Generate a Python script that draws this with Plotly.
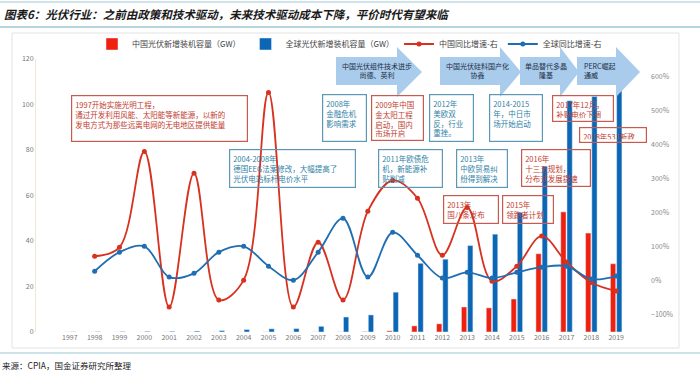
import plotly.graph_objects as go

years = [str(y) for y in range(1997, 2020)]
china_gw = [0.003, 0.005, 0.005, 0.015, 0.01, 0.02, 0.01, 0.01, 0.05, 0.01, 0.02, 0.04, 0.16,
            0.5, 2.7, 3.6, 11.0, 10.6, 14.5, 34.4, 52.8, 43.5, 30.0]
global_gw = [0.08, 0.15, 0.2, 0.28, 0.3, 0.4, 0.6, 1.1, 1.4, 1.5, 2.5, 6.6, 7.5,
             17.5, 30.2, 32.0, 38.0, 43.0, 52.6, 72.8, 101.7, 103.5, 115.0]
china_yoy = [None, 72, 98, 379, -77, 315, -56, 2, 552, -77, 113, -56, 204,
             294, 242, 75, 215, -1, 43, 131, 55, -5, -30]
global_yoy = [None, 28, 84, 101, 11, 22, 84, 101, 43, 2, 84, 183, 11,
              142, 75, 8, 25, 8, 25, 40, 43, 5, 14]

title_text = "图表6：光伏行业：之前由政策和技术驱动，未来技术驱动成本下降，平价时代有望来临"
source_text = "来源：CPIA，国金证券研究所整理"
legend_names = ["中国光伏新增装机容量（GW）", "全球光伏新增装机容量（GW）", "中国同比增速-右", "全球同比增速-右"]

arrow_texts = ["中国光伏组件技术进步<br>尚德、英利", "中国光伏硅料国产化<br>协鑫",
               "单品替代多晶<br>隆基", "PERC崛起<br>通威"]

box_texts = [
    ("1997开始实施光明工程，<br>通过开发利用风能、太阳能等新能源，以新的<br>发电方式为那些远离电网的无电地区提供能量", "r"),
    ("2004-2008年<br>德国EEG法案修改，大幅提高了<br>光伏电站标杆电价水平", "b"),
    ("2008年<br>金融危机<br>影响需求", "b"),
    ("2009年中国<br>金太阳工程<br>启动，国内<br>市场开启", "r"),
    ("2011年欧债危<br>机，新能源补<br>贴削减", "b"),
    ("2012年<br>美欧双<br>反，行业<br>重挫。", "b"),
    ("2013年<br>中欧贸易纠<br>纷得到解决", "b"),
    ("2014-2015<br>年，中日市<br>场开始启动", "b"),
    ("2013年<br>国八条发布", "r"),
    ("2015年<br>领跑者计划", "r"),
    ("2016年<br>十三五规划，<br>分布式发展提速", "r"),
    ("2017年12月，<br>补贴电价下调", "r"),
    ("2018年531新政", "r"),
]
box_geom = [(71, 95, 248, 142), (229, 149, 356, 188), (322, 94, 367, 142), (371, 95, 424, 141),
            (378, 149, 443, 188), (429, 94, 474, 142), (456, 149, 508, 188), (489, 94, 543, 142),
            (443, 195, 499, 224), (502, 195, 554, 224), (521, 149, 591, 187), (552, 95, 614, 122),
            (579, 127, 647, 143)]

W, H = 700, 375
L, R, T, B = 36, 50, 59, 43
PW, PH = W - L - R, H - T - B


def px(x):
    return (x - L) / PW


def py(y):
    return (H - B - y) / PH


FONT = "Noto Sans CJK SC"
RED_BAR = "#f0200f"
BLUE_BAR = "#0b67b5"
RED_LINE = "#d8311f"
BLUE_LINE = "#1f6eb2"

fig = go.Figure()
fig.add_trace(go.Bar(x=years, y=china_gw, name=legend_names[0], marker_color=RED_BAR))
fig.add_trace(go.Bar(x=years, y=global_gw, name=legend_names[1], marker_color=BLUE_BAR))
fig.add_trace(go.Scatter(x=years, y=china_yoy, name=legend_names[2], yaxis="y2",
                         mode="lines+markers", line=dict(color=RED_LINE, width=1.8, shape="spline"),
                         marker=dict(size=5, color=RED_LINE)))
fig.add_trace(go.Scatter(x=years, y=global_yoy, name=legend_names[3], yaxis="y2",
                         mode="lines+markers", line=dict(color=BLUE_LINE, width=1.8, shape="spline"),
                         marker=dict(size=5, color=BLUE_LINE)))

shapes = []
shapes.append(dict(type="line", xref="paper", yref="paper", x0=px(0), x1=px(700), y0=py(2), y1=py(2),
                   line=dict(color="#cfe3ea", width=2)))
shapes.append(dict(type="line", xref="paper", yref="paper", x0=px(0), x1=px(700), y0=py(27), y1=py(27),
                   line=dict(color="#9cc6d3", width=1.5)))
shapes.append(dict(type="rect", xref="paper", yref="paper", x0=px(12), x1=px(679), y0=py(33), y1=py(348),
                   line=dict(color="#e3e3e3", width=1)))
shapes.append(dict(type="line", xref="paper", yref="paper", x0=px(0), x1=px(700), y0=py(353), y1=py(353),
                   line=dict(color="#9cc6d3", width=1.2)))

arrow_geom = [(336, 397, 422), (440, 500, 521), (520, 560, 579), (577, 616, 640)]
for (x0, xh, xt) in arrow_geom:
    pts = [(x0, 57), (xh, 57), (xh, 47), (xt, 72), (xh, 97), (xh, 85), (x0, 85)]
    path = "M " + " L ".join(f"{px(a):.5f},{py(b):.5f}" for a, b in pts) + " Z"
    shapes.append(dict(type="path", xref="paper", yref="paper", path=path,
                       fillcolor="#a9cbec", line=dict(width=0), layer="above"))

annotations = []
annotations.append(dict(text="<b><i>" + title_text + "</i></b>", xref="paper", yref="paper",
                        x=px(2), y=py(14), xanchor="left", yanchor="middle", showarrow=False,
                        font=dict(family=FONT, size=11.5, color="#1a1a1a")))
annotations.append(dict(text=source_text, xref="paper", yref="paper",
                        x=px(0), y=py(365), xanchor="left", yanchor="middle", showarrow=False,
                        font=dict(family=FONT, size=8.5, color="#222")))

arrow_text_x = [377, 477, 546, 582]
for i, t in enumerate(arrow_texts):
    if i == 3:
        annotations.append(dict(text=t, xref="paper", yref="paper", x=px(arrow_text_x[i]), y=py(70.5),
                                xanchor="left", yanchor="middle", align="left", showarrow=False,
                                font=dict(family=FONT, size=7, color="#1d2f45")))
    else:
        annotations.append(dict(text=t, xref="paper", yref="paper", x=px(arrow_text_x[i]), y=py(70.5),
                                xanchor="center", yanchor="middle", align="center", showarrow=False,
                                font=dict(family=FONT, size=7, color="#1d2f45")))

for (t, c), (x0, y0, x1, y1) in zip(box_texts, box_geom):
    col = "#c23a2e" if c == "r" else "#2f7fa6"
    bcol = "#c85a50" if c == "r" else "#5b97b6"
    pad = 3
    annotations.append(dict(text=t, xref="paper", yref="paper", x=px(x0), y=py(y0),
                            xanchor="left", yanchor="top", align="left", valign="top",
                            width=x1 - x0 - 2 * pad - 2, height=y1 - y0 - 2 * pad - 2,
                            showarrow=False, bordercolor=bcol, borderwidth=1.2, borderpad=pad,
                            font=dict(family=FONT, size=7.5, color=col)))

fig.update_layout(
    width=W, height=H,
    margin=dict(l=L, r=R, t=T, b=B),
    paper_bgcolor="white", plot_bgcolor="white",
    barmode="group", bargap=0.5, bargroupgap=0.15,
    font=dict(family=FONT, size=7, color="#777"),
    showlegend=True,
    legend=dict(orientation="h", x=px(92), y=py(44), xanchor="left", yanchor="middle",
                font=dict(family=FONT, size=8, color="#444"), bgcolor="rgba(0,0,0,0)",
                itemwidth=30, tracegroupgap=0),
    xaxis=dict(type="category", showline=False, ticks="", showgrid=False,
               tickfont=dict(family=FONT, size=7, color="#777")),
    yaxis=dict(range=[0, 120], dtick=20, showgrid=False, zeroline=False, showline=True,
               linecolor="#efe9cf", ticks="", tickfont=dict(family=FONT, size=7, color="#777")),
    yaxis2=dict(range=[-150, 650], dtick=100, overlaying="y", side="right", showgrid=False,
                zeroline=False, showline=False, ticksuffix="%", ticks="",
                tickfont=dict(family=FONT, size=7, color="#888")),
    shapes=shapes, annotations=annotations,
)

fig.write_html("out.html", config={"displayModeBar": False},
               post_script="document.body.style.margin='0';document.body.style.overflow='hidden';")
